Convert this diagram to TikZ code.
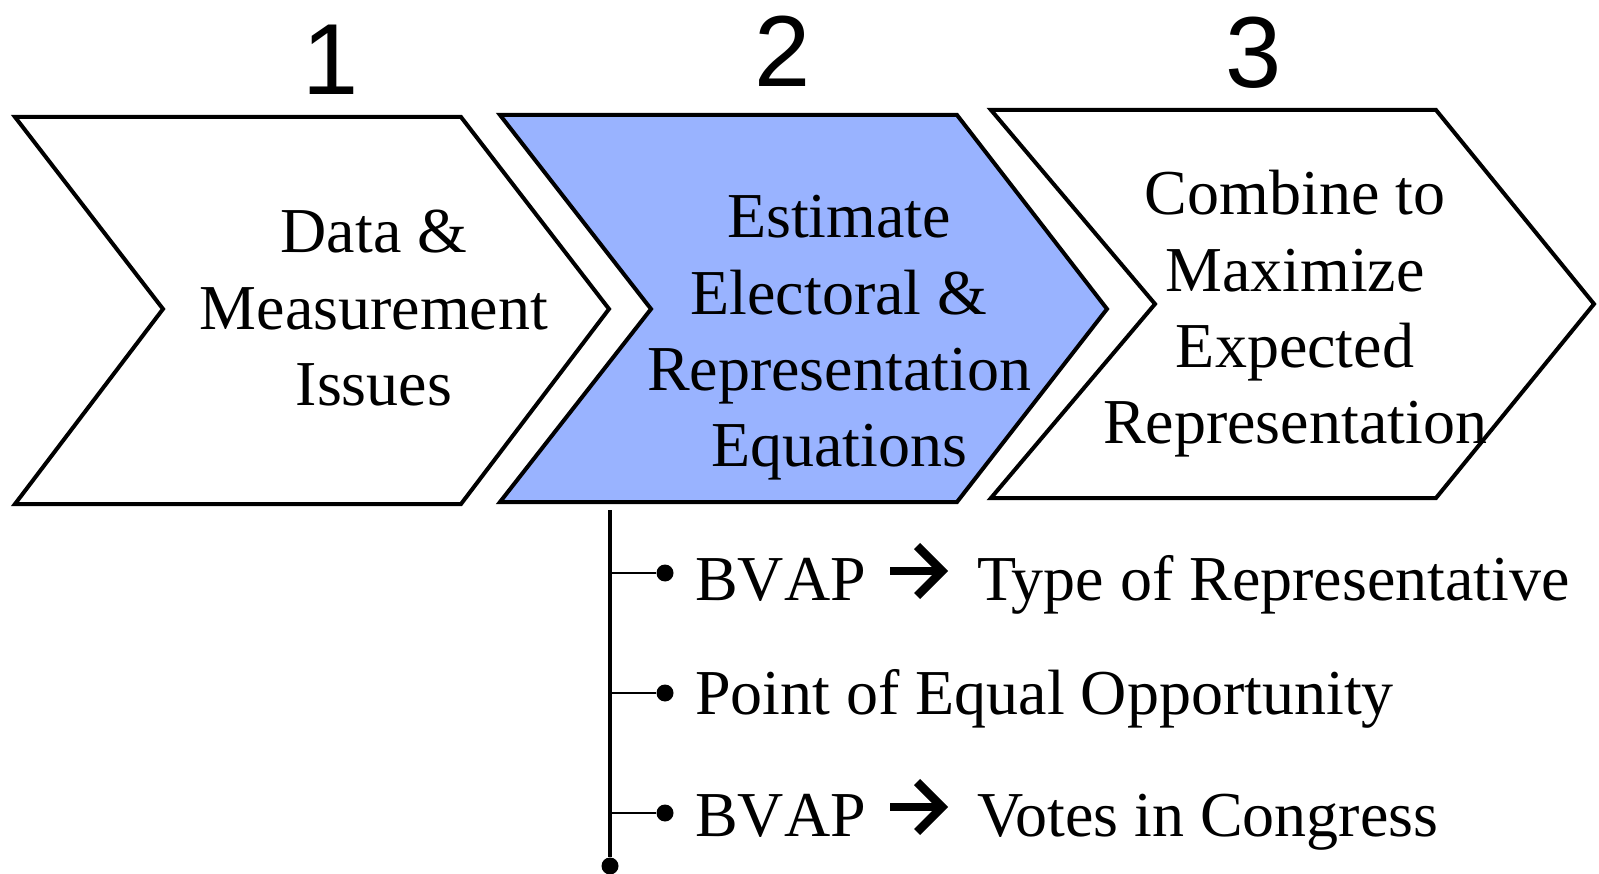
\documentclass[tikz,border=0pt]{standalone}
\usepackage{fontspec}
\usetikzlibrary{calc}
\setmainfont{Liberation Serif}
\newfontfamily\numfont{Liberation Sans}
\definecolor{stepblue}{RGB}{153,179,255}
\begin{document}
\begin{tikzpicture}[x=1pt,y=-1pt,
  chev/.style={draw=black,line width=4pt,line join=miter},
  steplabel/.style={font=\fontsize{64}{76.5}\selectfont,align=center,inner sep=0pt,anchor=base},
  stepnum/.style={font=\numfont\fontsize{101}{101}\selectfont,inner sep=0pt,anchor=base},
  itemtext/.style={font=\fontsize{64}{76.5}\selectfont,inner sep=0pt,anchor=base west},
  bulletdot/.style={circle,fill=black,inner sep=0pt,minimum size=17pt},
  trunk/.style={line width=4pt},
  twig/.style={line width=2pt},
  thickarrow/.style={line width=8.5pt,line join=miter}]
\useasboundingbox (0,0) rectangle (1599,874);
\fill[white] (0,0) rectangle (1599,874);

% the three process chevrons
\draw[chev] (15,117) -- (461,117) -- (609,309) -- (461,504) -- (15,504) -- (163,309) -- cycle;
\draw[chev,fill=stepblue] (500,115) -- (957,115) -- (1107,309) -- (957,502) -- (500,502) -- (651,309) -- cycle;
\draw[chev] (991,110) -- (1436,110) -- (1594,304) -- (1436,498) -- (991,498) -- (1155,304) -- cycle;

% step numbers
\node[stepnum] (n1) at (331,95) {1};
\node[stepnum] (n2) at (783,87) {2};
\node[stepnum] (n3) at (1254,88) {3};

% chevron labels (anchored at the baseline of the last line)
\node[steplabel] (s1) at (374,406) {Data \&\\Measurement\\Issues};
\node[steplabel] (s2) at (839,467) {Estimate\\Electoral \&\\Representation\\Equations};
\node[steplabel] (s3) at (1295,444) {Combine to\\Maximize\\Expected\\Representation};

% outline tree under step 2
\coordinate (top) at (610,510);
\node[bulletdot] (end) at (610,866) {};
\draw[trunk] (top) -- (end);

\node[bulletdot] (b1) at (665,573) {};
\node[bulletdot] (b2) at (665,693) {};
\node[bulletdot] (b3) at (665,813) {};
\draw[twig] (b1 -| top) -- (b1);
\draw[twig] (b2 -| top) -- (b2);
\draw[twig] (b3 -| top) -- (b3);

\node[itemtext] (t1a) at (695,600) {\addfontfeature{Kerning=Off}BVAP};
\node[itemtext] (t1b) at (977,600) {Type of Representative};
\node[itemtext] (t2) at (695,714) {Point of Equal Opportunity};
\node[itemtext] (t3a) at (695,836) {\addfontfeature{Kerning=Off}BVAP};
\node[itemtext] (t3b) at (977,836) {Votes in Congress};

% heavy arrows between the item parts
\coordinate (a1s) at ($(t1a.base east)+(24,-29)$);
\coordinate (a1e) at ($(t1b.base west)+(-35,-29)$);
\draw[thickarrow] (a1s) -- (a1e);
\draw[thickarrow] ($(a1e)+(-25,-25)$) -- (a1e) -- ($(a1e)+(-25,25)$);
\coordinate (a3s) at ($(t3a.base east)+(24,-29)$);
\coordinate (a3e) at ($(t3b.base west)+(-35,-29)$);
\draw[thickarrow] (a3s) -- (a3e);
\draw[thickarrow] ($(a3e)+(-25,-25)$) -- (a3e) -- ($(a3e)+(-25,25)$);
\end{tikzpicture}
\end{document}
